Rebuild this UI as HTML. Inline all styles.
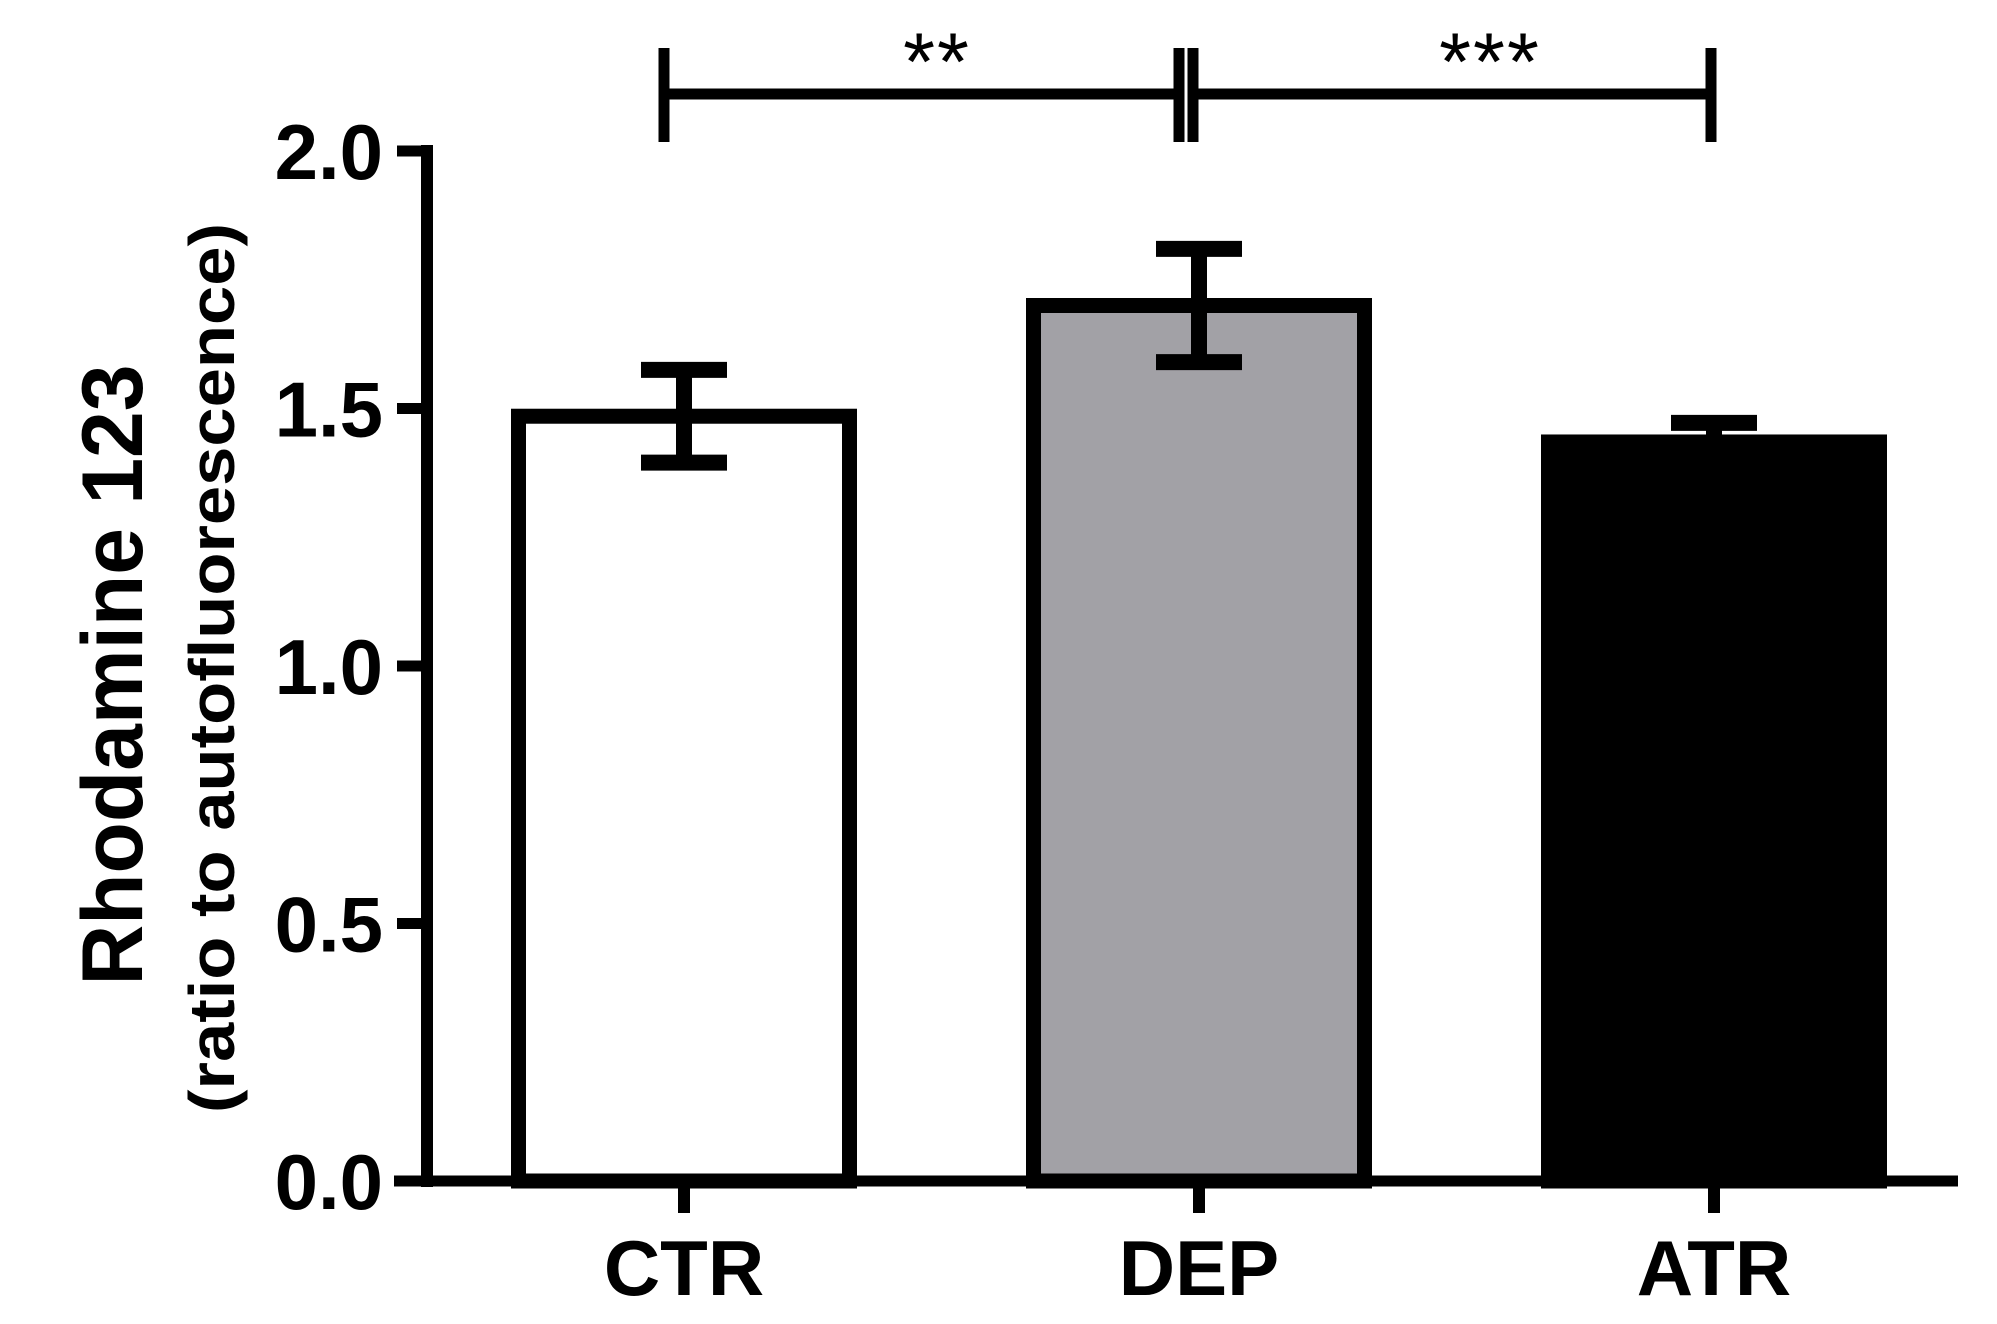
<!DOCTYPE html>
<html><head><meta charset="utf-8"><style>
html,body{margin:0;padding:0;background:#fff;}
svg{display:block;font-family:"Liberation Sans",Arial,sans-serif;}
</style></head><body>
<svg id="chart" width="1997" height="1324" viewBox="0 0 1997 1324" xmlns="http://www.w3.org/2000/svg">
<g id="plot"></g>
</svg>
<script>
const categories = ["CTR", "DEP", "ATR"];
const means = [1.485, 1.70, 1.435];
const sems = [0.09, 0.11, 0.037];
const fills = ["#ffffff", "#a2a1a6", "#000000"];
const yTicks = [0, 0.5, 1.0, 1.5, 2.0];
const yTickLabels = ["0.0", "0.5", "1.0", "1.5", "2.0"];

const NS = "http://www.w3.org/2000/svg";
const g = document.getElementById("plot");
function yScale(v){ return 1181 - v * 515; }
function xScale(i){ return 684 + i * 515; }
function el(tag, attrs, parent){
  const e = document.createElementNS(NS, tag);
  for (const k in attrs) e.setAttribute(k, attrs[k]);
  (parent || g).appendChild(e);
  return e;
}
const barW = 331, sw = 15;

categories.forEach((c, i) => {
  const cx = xScale(i), top = yScale(means[i]), base = yScale(0);
  const r = el("rect", {x: cx - barW/2, y: top, width: barW, height: base - top, fill: fills[i], stroke: "#000", "stroke-width": sw});
  
  
  const hi = yScale(means[i] + sems[i]), lo = yScale(means[i] - sems[i]);
  const eb = el("g", {stroke: "#000", "stroke-width": 16});
  
  
  el("line", {x1: cx, y1: hi, x2: cx, y2: (i === 2 ? top : lo)}, eb);
  el("line", {x1: cx - 43, y1: hi, x2: cx + 43, y2: hi}, eb);
  if (i !== 2) el("line", {x1: cx - 43, y1: lo, x2: cx + 43, y2: lo}, eb);
});

const yAxis = el("g", {});


el("line", {x1: 427, y1: yScale(2) - 6, x2: 427, y2: 1187, stroke: "#000", "stroke-width": 12}, yAxis);
yTicks.forEach((t, i) => {
  const y = yScale(t);
  el("line", {x1: 397, y1: y, x2: 430, y2: y, stroke: "#000", "stroke-width": 11}, yAxis);
  const tx = el("text", {x: 383, y: y + 28, "text-anchor": "end", "font-size": 78, "font-weight": "bold"}, yAxis);
  tx.textContent = yTickLabels[i];
  
  
});

const xAxis = el("g", {});


el("line", {x1: 394, y1: 1181, x2: 1958, y2: 1181, stroke: "#000", "stroke-width": 11}, xAxis);
categories.forEach((c, i) => {
  const cx = xScale(i);
  el("line", {x1: cx, y1: 1181, x2: cx, y2: 1213, stroke: "#000", "stroke-width": 12}, xAxis);
  const tx = el("text", {x: cx, y: 1295, "text-anchor": "middle", "font-size": 78, "font-weight": "bold"}, xAxis);
  tx.textContent = c;
  
  
});

const t1 = el("text", {transform: "translate(142,675) rotate(-90)", "text-anchor": "middle", "font-size": 86, "font-weight": "bold", textLength: 621, lengthAdjust: "spacingAndGlyphs"});
t1.textContent = "Rhodamine 123";


const t2 = el("text", {transform: "translate(234,668) rotate(-90)", "text-anchor": "middle", "font-size": 64, "font-weight": "bold", textLength: 890, lengthAdjust: "spacingAndGlyphs"});
t2.textContent = "(ratio to autofluorescence)";



const sig = el("g", {stroke: "#000"});


el("line", {x1: 664, y1: 94, x2: 1179, y2: 94, "stroke-width": 11}, sig);
el("line", {x1: 1193, y1: 94, x2: 1711, y2: 94, "stroke-width": 11}, sig);
[664, 1179, 1193, 1711].forEach(x => el("line", {x1: x, y1: 48, x2: x, y2: 142, "stroke-width": 11}, sig));
const s1 = el("text", {x: 937, y: 90, "text-anchor": "middle", "font-size": 82, "letter-spacing": 2});
s1.textContent = "**";


const s2 = el("text", {x: 1490, y: 90, "text-anchor": "middle", "font-size": 82, "letter-spacing": 2});
s2.textContent = "***";


</script>
</body></html>
